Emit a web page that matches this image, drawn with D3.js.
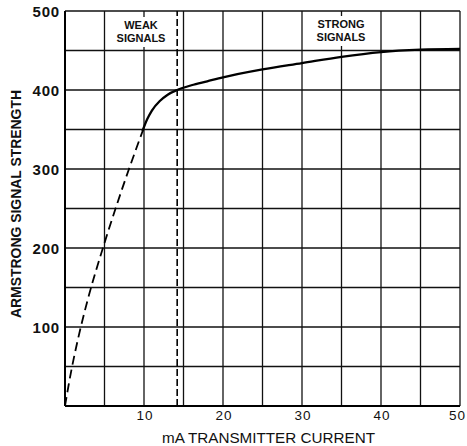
<!DOCTYPE html>
<html>
<head>
<meta charset="utf-8">
<script src="https://cdn.jsdelivr.net/npm/d3@7"></script>
<style>
  html, body { margin: 0; padding: 0; background: #fff; }
  svg { display: block; }
</style>
</head>
<body>
<script>
// Armstrong signal strength vs transmitter current
const weakCurrent  = [0, 0.9, 2.0, 3.3, 4.8, 6.4, 8.1, 9.9];
const weakStrength = [0, 50, 100, 150, 200, 250, 300, 350];

const strongCurrent  = [9.8, 10.4, 11, 12, 13, 14.2, 16, 18, 20, 25, 30, 35, 40, 45, 50];
const strongStrength = [348, 363, 374, 386, 394, 400, 406, 411, 416, 426, 434, 442, 448, 451, 452];

const boundaryCurrent = 14.2;

const xTicks = [10, 20, 30, 40, 50];
const yTicks = [100, 200, 300, 400, 500];
const xGrid = d3.range(0, 51, 5);
const yGrid = d3.range(0, 501, 50);

const W = 467, H = 446;
const svg = d3.select("body").append("svg").attr("width", W).attr("height", H);

const x = d3.scaleLinear().domain([0, 50]).range([65, 460]);
const y = d3.scaleLinear().domain([0, 500]).range([406, 11]);

// grid
const grid = svg.append("g").attr("stroke", "#111").attr("stroke-width", 1.3);
grid.selectAll("line.v").data(xGrid).join("line")
  .attr("x1", d => x(d)).attr("x2", d => x(d))
  .attr("y1", y(0)).attr("y2", y(500));
grid.selectAll("line.h").data(yGrid).join("line")
  .attr("x1", x(0)).attr("x2", x(50))
  .attr("y1", d => y(d)).attr("y2", d => y(d));

// heavier left and bottom axes
svg.append("line").attr("x1", x(0)).attr("x2", x(0)).attr("y1", y(0)).attr("y2", y(500))
  .attr("stroke", "#000").attr("stroke-width", 2);
svg.append("line").attr("x1", x(0)).attr("x2", x(50)).attr("y1", y(0)).attr("y2", y(0))
  .attr("stroke", "#000").attr("stroke-width", 2);

// region labels with white backing
function regionLabel(cx, lines, topY) {
  const g = svg.append("g");
  g.append("rect").attr("x", cx - 27).attr("y", topY - 4).attr("width", 54).attr("height", 30)
    .attr("fill", "#fff");
  lines.forEach((t, i) => {
    g.append("text").attr("x", cx).attr("y", topY + 8 + i * 13)
      .attr("text-anchor", "middle")
      .attr("font-family", "Liberation Sans, Arial, sans-serif")
      .attr("font-weight", "bold").attr("font-size", 11)
      .attr("fill", "#111").text(t);
  });
}
regionLabel(141, ["WEAK", "SIGNALS"], 21);
regionLabel(341, ["STRONG", "SIGNALS"], 20);

// boundary between weak and strong signals
svg.append("line")
  .attr("x1", x(boundaryCurrent)).attr("x2", x(boundaryCurrent))
  .attr("y1", y(0)).attr("y2", y(500))
  .attr("stroke", "#000").attr("stroke-width", 1.6)
  .attr("stroke-dasharray", "7,3");

const line = d3.line().x(d => x(d[0])).y(d => y(d[1])).curve(d3.curveMonotoneX);

svg.append("path")
  .datum(weakCurrent.map((c, i) => [c, weakStrength[i]]))
  .attr("d", d3.line().x(d => x(d[0])).y(d => y(d[1])).curve(d3.curveMonotoneY))
  .attr("fill", "none").attr("stroke", "#000").attr("stroke-width", 1.8)
  .attr("stroke-dasharray", "9,5");

svg.append("path")
  .datum(strongCurrent.map((c, i) => [c, strongStrength[i]]))
  .attr("d", line)
  .attr("fill", "none").attr("stroke", "#000").attr("stroke-width", 2.3);

// y tick labels
svg.append("g").selectAll("text").data(yTicks).join("text")
  .attr("x", 60).attr("y", d => y(d) + 5.5)
  .attr("text-anchor", "end")
  .attr("font-family", "Liberation Sans, Arial, sans-serif")
  .attr("font-weight", "bold").attr("font-size", 15)
  .attr("letter-spacing", 0.8)
  .attr("fill", "#111").text(d => d);

// x tick labels (the last one is kept inside the right edge)
svg.append("g").selectAll("text").data(xTicks).join("text")
  .attr("x", (d, i) => i === xTicks.length - 1 ? W - 1 : x(d) + 1).attr("y", 420)
  .attr("text-anchor", (d, i) => i === xTicks.length - 1 ? "end" : "middle")
  .attr("font-family", "Liberation Sans, Arial, sans-serif")
  .attr("font-size", 13.5).attr("letter-spacing", 1)
  .attr("fill", "#111").text(d => d);

// axis titles
svg.append("text")
  .attr("x", 162).attr("y", 443)
  .attr("font-family", "Liberation Sans, Arial, sans-serif")
  .attr("font-size", 14.5)
  .attr("textLength", 213).attr("lengthAdjust", "spacingAndGlyphs")
  .attr("fill", "#111").text("mA TRANSMITTER CURRENT");

svg.append("text")
  .attr("transform", "translate(21,318) rotate(-90)")
  .attr("font-family", "Liberation Sans, Arial, sans-serif")
  .attr("font-weight", "bold").attr("font-size", 14)
  .attr("textLength", 228).attr("lengthAdjust", "spacingAndGlyphs")
  .attr("fill", "#111").text("ARMSTRONG SIGNAL STRENGTH");
</script>
</body>
</html>
